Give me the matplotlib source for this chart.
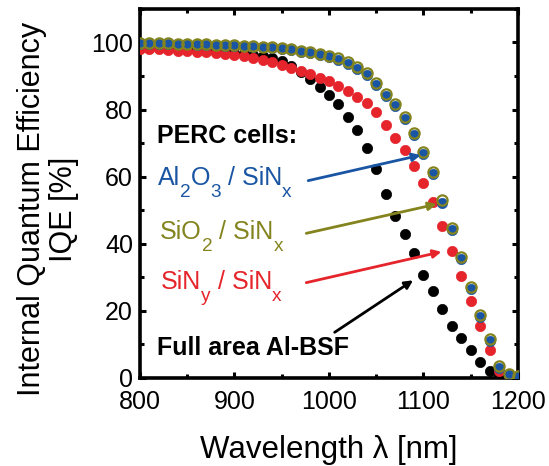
import matplotlib
matplotlib.use("Agg")
import matplotlib.pyplot as plt
from matplotlib.ticker import MultipleLocator

plt.rcParams['font.family'] = ['Liberation Sans', 'DejaVu Sans']

wavelength = list(range(800, 1201, 10))

iqe_bsf = [98.3, 98.3, 98.2, 98.1, 98.0, 97.9, 97.7, 97.5, 97.3, 97.1,
           96.8, 96.5, 96.2, 95.8, 95.3, 94.6, 93.0, 91.3, 89.1, 86.8,
           84.2, 81.5, 77.8, 73.8, 68.6, 62.3, 54.9, 48.4, 42.8, 37.2,
           30.6, 25.9, 20.4, 15.4, 11.8, 8.2, 4.6, 2.2, 0.8, 0.3, 0.1]
iqe_siny = [98.1, 98.0, 97.9, 97.7, 97.5, 97.4, 97.2, 97.0, 96.7, 96.5,
            96.2, 95.8, 95.4, 94.8, 94.1, 93.2, 92.5, 91.6, 90.5, 89.5,
            88.4, 87.0, 85.6, 83.8, 81.8, 79.3, 75.3, 71.6, 67.8, 63.3,
            58.1, 52.5, 45.3, 37.9, 30.3, 22.9, 15.4, 8.2, 2.2, 0.8, 0.5]
iqe_al2o3 = [99.6, 99.6, 99.5, 99.5, 99.4, 99.4, 99.3, 99.2, 99.1, 99.0,
             98.9, 98.8, 98.6, 98.5, 98.3, 98.0, 97.6, 97.1, 96.7, 96.1,
             95.6, 94.9, 93.6, 92.1, 90.4, 87.3, 84.0, 81.0, 77.1, 72.4,
             66.6, 60.8, 52.1, 44.1, 35.4, 26.4, 18.1, 10.9, 3.1, 0.9, 0.4]
iqe_sio2 = [99.8, 99.8, 99.7, 99.7, 99.6, 99.6, 99.5, 99.4, 99.3, 99.2,
            99.1, 99.0, 98.8, 98.7, 98.5, 98.2, 97.9, 97.4, 97.0, 96.5,
            96.0, 95.3, 94.1, 92.6, 90.9, 87.9, 84.6, 81.6, 77.8, 73.1,
            67.2, 61.5, 52.9, 44.8, 36.1, 27.1, 18.8, 11.5, 3.6, 1.1, 0.5]

c_blue = '#1a55a3'
c_olive = '#84841f'
c_red = '#e5242b'
c_black = '#000000'

fig = plt.figure(figsize=(5.49, 4.66), dpi=100)
ax = fig.add_axes([0.255, 0.189, 0.6885, 0.792])

ms = 7.4
ax.plot(wavelength, iqe_bsf, 'o', ls='none', ms=ms, mfc=c_black, mec=c_black, mew=0.5, zorder=3)
ax.plot(wavelength, iqe_siny, 'o', ls='none', ms=ms, mfc=c_red, mec=c_red, mew=0.5, zorder=4)
ax.plot(wavelength, iqe_al2o3, 'o', ls='none', ms=ms, mfc=c_blue, mec=c_blue, mew=0.5, zorder=5)
ax.plot(wavelength, iqe_sio2, 'o', ls='none', ms=ms, mfc='none', mec=c_olive, mew=1.6, zorder=6)

ax.set_xlim(800, 1200)
ax.set_ylim(0, 110)
ax.xaxis.set_major_locator(MultipleLocator(100))
ax.xaxis.set_minor_locator(MultipleLocator(50))
ax.yaxis.set_major_locator(MultipleLocator(20))
ax.yaxis.set_minor_locator(MultipleLocator(10))
ax.tick_params(which='both', direction='in', top=True, right=True, width=2.2,
               labelsize=18)
ax.tick_params(axis='x', which='both', pad=9)
ax.tick_params(axis='y', which='both', pad=5)
ax.tick_params(which='major', length=4)
ax.tick_params(which='minor', length=3)
for s in ax.spines.values():
    s.set_linewidth(2.6)

ax.set_xlabel(u'Wavelength \u03bb [nm]', fontsize=22.5, labelpad=15)
ax.set_ylabel('Internal Quantum Efficiency\nIQE [%]', fontsize=22,
              linespacing=1.08, ha='center', va='center')
ax.yaxis.set_label_coords(-0.243, 0.458)

fs = 18


def rich(x, y, pieces, color, weight='normal'):
    """pieces: list of (string, is_subscript)"""
    first = ax.text(x, y, pieces[0][0], fontsize=fs, color=color,
                    fontweight=weight, va='bottom', ha='left')
    prev = first
    for s, sub in pieces[1:]:
        if sub:
            t = ax.annotate(s, xy=(1, 0), xycoords=(prev, first),
                            xytext=(0, -0.42 * fs), textcoords='offset points',
                            fontsize=fs * 0.76, color=color, va='bottom', ha='left')
        else:
            t = ax.annotate(s, xy=(1, 0), xycoords=(prev, first),
                            fontsize=fs, color=color, va='bottom', ha='left')
        prev = t
    return first


ax.text(818, 72.1, 'PERC cells:', fontsize=fs, fontweight='bold', va='center', ha='left')
rich(819, 56.0, [('Al', False), ('2', True), ('O', False), ('3', True),
                 (' / SiN', False), ('x', True)], c_blue)
rich(821, 39.9, [('SiO', False), ('2', True), (' / SiN', False), ('x', True)], c_olive)
rich(822, 24.9, [('SiN', False), ('y', True), (' / SiN', False), ('x', True)], c_red)
ax.text(818, 8.8, 'Full area Al-BSF', fontsize=fs, fontweight='bold', va='center', ha='left')


def arrow(x0, y0, x1, y1, color):
    ax.annotate('', xy=(x1, y1), xytext=(x0, y0),
                arrowprops=dict(arrowstyle='-|>', color=color, lw=2,
                                mutation_scale=12, shrinkA=0, shrinkB=0),
                zorder=7)


arrow(978, 58.8, 1097, 66.4, c_blue)
arrow(976, 43.1, 1114, 51.8, c_olive)
arrow(976, 28.4, 1119, 37.6, c_red)
arrow(1006, 13.6, 1089, 29.1, c_black)

fig.savefig('out.png', dpi=100)
